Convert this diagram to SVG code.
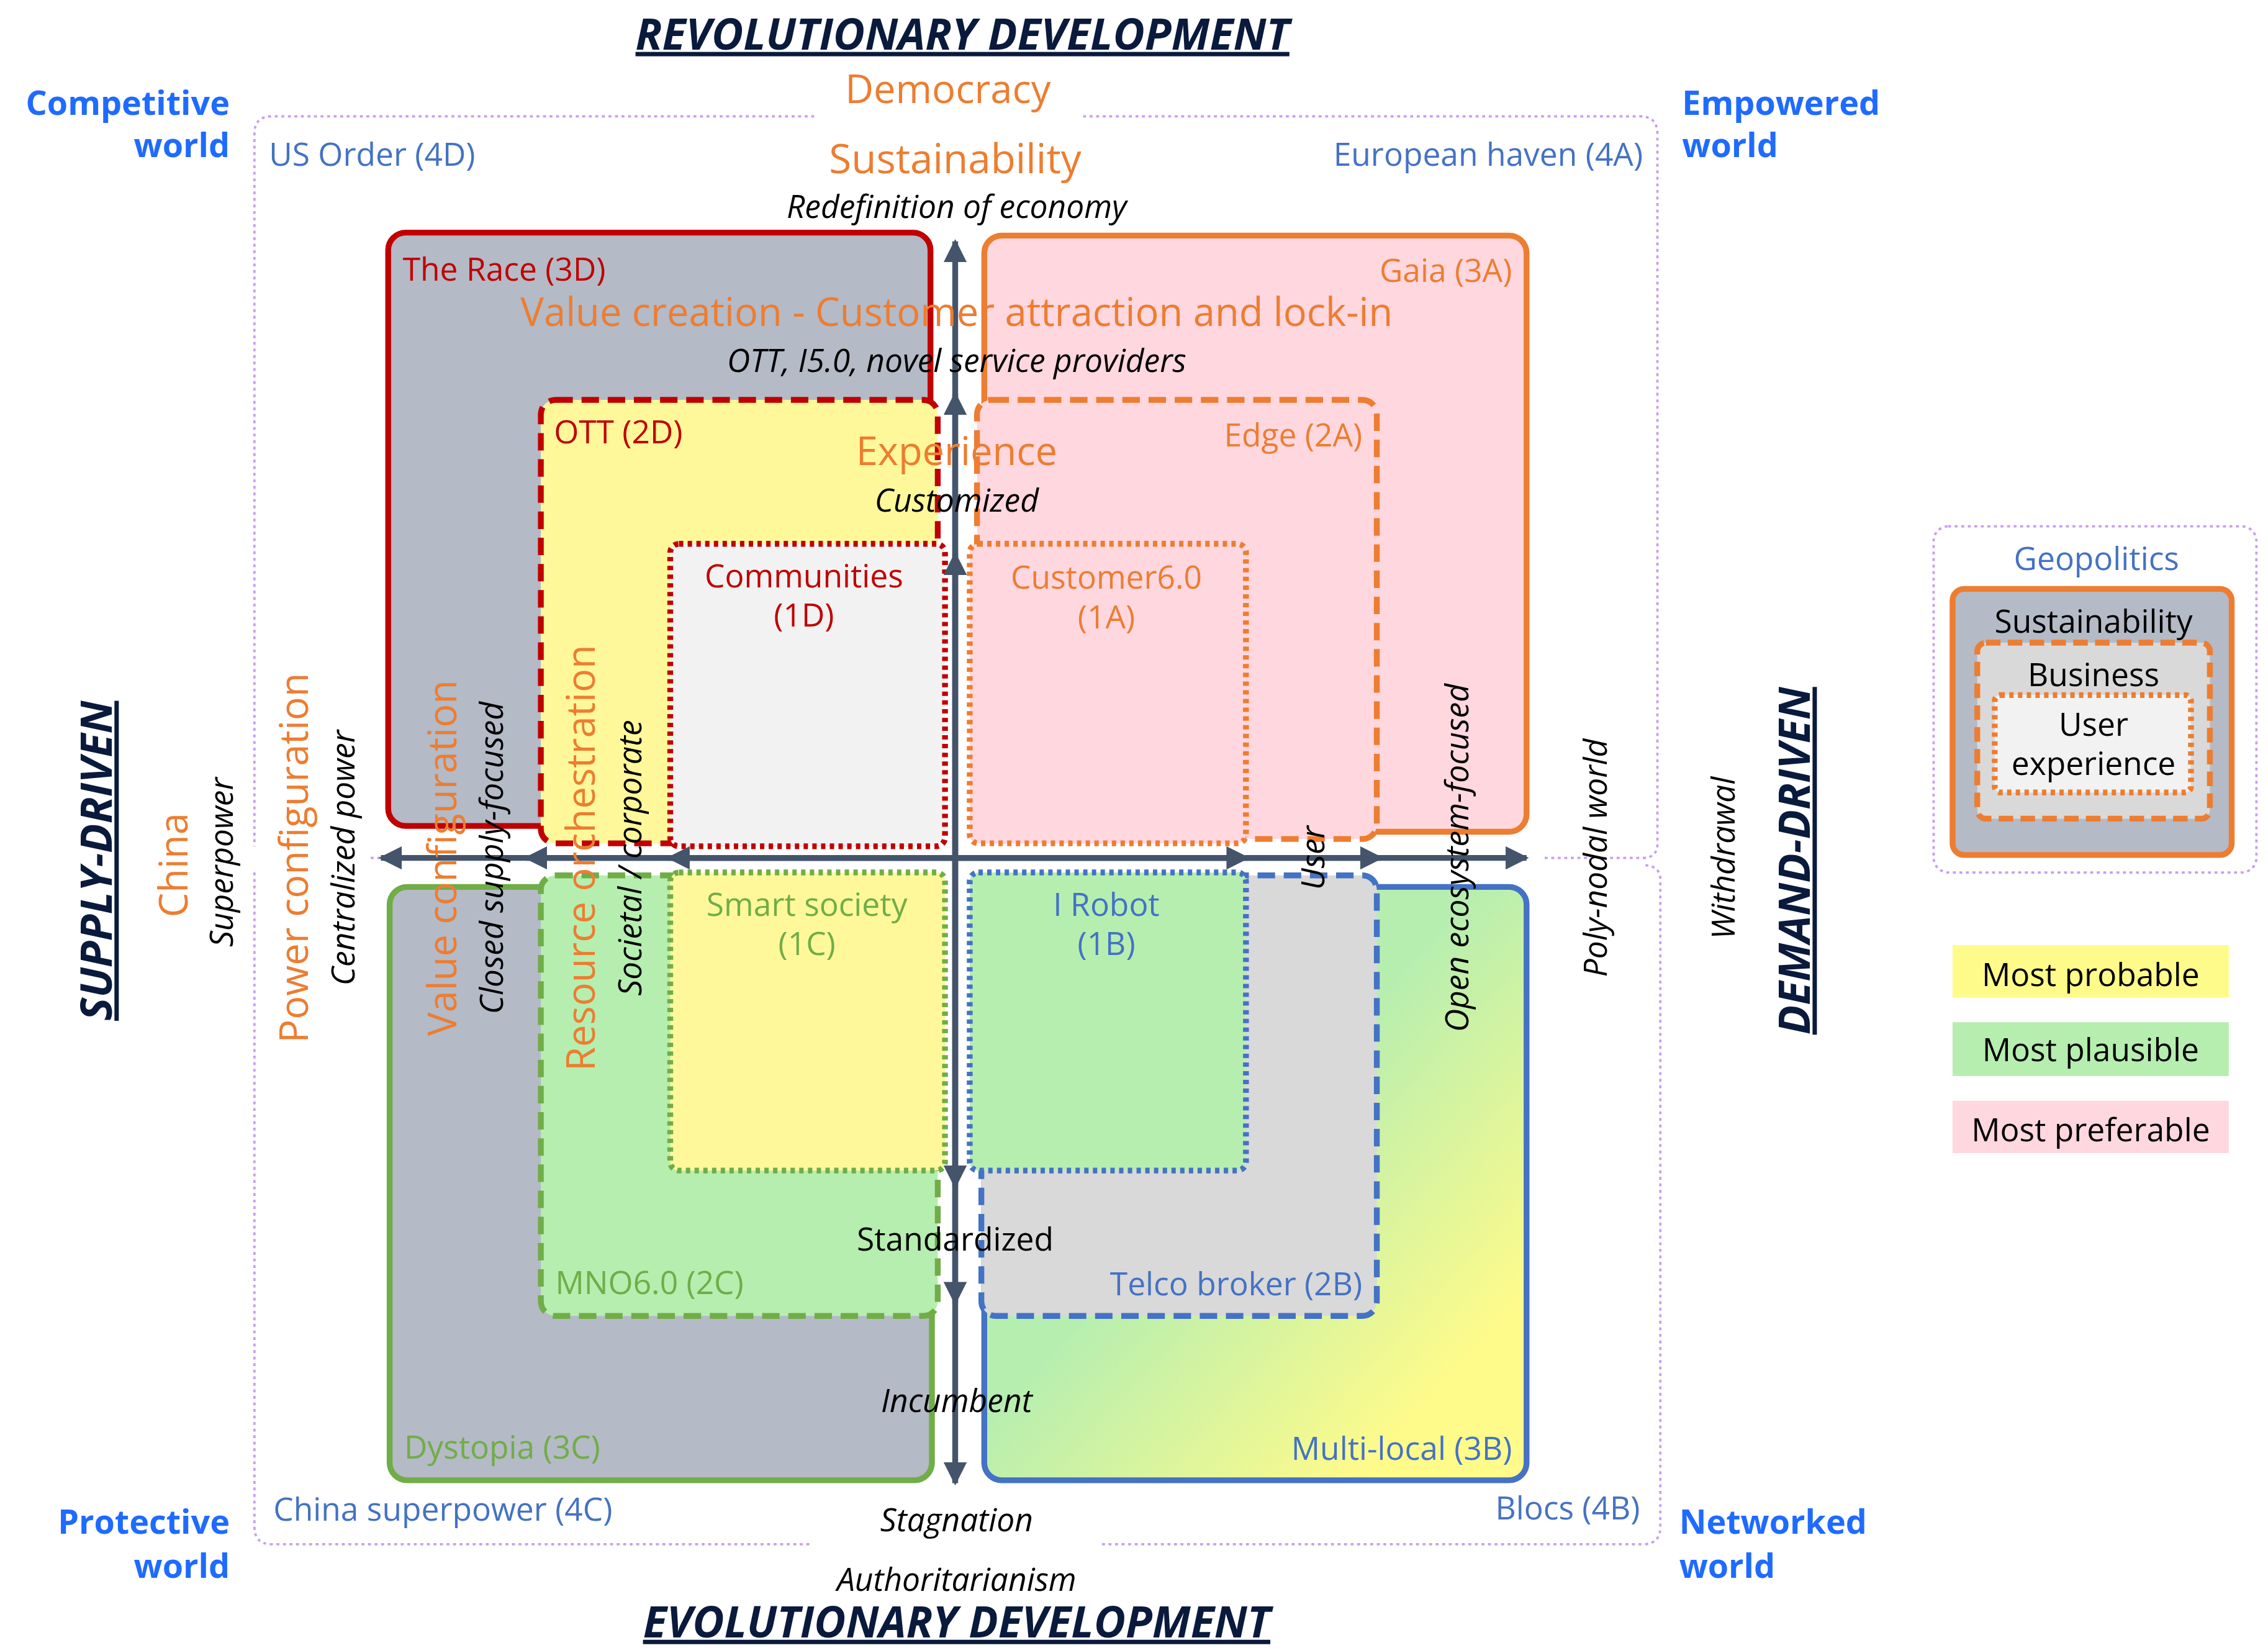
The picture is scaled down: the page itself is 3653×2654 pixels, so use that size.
<svg xmlns="http://www.w3.org/2000/svg" width="3653" height="2654" viewBox="0 0 3653 2654">
<defs>
<style>
text{font-family:"Open Sans","Noto Sans","DejaVu Sans",sans-serif;font-size:22px}
.c{text-anchor:middle}
.e{text-anchor:end}
.it{font-style:italic;fill:#000}
.or{fill:#ed7d31}
.bl{fill:#4472c4}
.rd{fill:#c00000}
.gr{fill:#70ad47}
.wb{fill:#1f6bff;font-weight:bold;font-size:23px}
.ttl{font-weight:bold;font-style:italic;font-size:30px;fill:#0a1a3c;text-decoration:underline;text-anchor:middle}
.pu{fill:none;stroke:#c89cf6;stroke-width:1.6;stroke-dasharray:2 2.5}
.ax{stroke:#44546a;stroke-width:4;fill:none}
</style>
<marker id="ah" viewBox="0 0 10 10" refX="9" refY="5" markerWidth="4" markerHeight="4" orient="auto" markerUnits="strokeWidth"><path d="M0,0 L10,5 L0,10 z" fill="#44546a"/></marker>
<linearGradient id="g3b" x1="0" y1="0" x2="1" y2="1"><stop offset="0.45" stop-color="#b6eeb0"/><stop offset="0.85" stop-color="#fffb8a"/></linearGradient>
</defs>
<rect width="3653" height="2654" fill="#fff"/>
<g transform="scale(2.3417)">
<g id="frame">
<path class="pu" d="M560,80 H187 Q175,80 175,92 V582"/>
<path class="pu" d="M745,80 H1128 Q1140,80 1140,92 V580 Q1140,590 1130,590 H1060"/>
<path class="pu" d="M175,600 V1050 Q175,1062 187,1062 H558"/>
<path class="pu" d="M758,1062 H1130 Q1142,1062 1142,1050 V605 Q1142,595 1130,595"/>
<path class="pu" d="M255,590 H268"/>
</g>
<g id="n3D"><rect x="267" y="160" width="373" height="408" rx="12" fill="#b4bac6" stroke="#c00000" stroke-width="4"/><text x="277" y="193" class="rd">The Race (3D)</text></g>
<g id="n3A"><rect x="677" y="162" width="373" height="410" rx="12" fill="#ffd7df" stroke="#ed7d31" stroke-width="4"/><text x="1040" y="194" class="or e">Gaia (3A)</text></g>
<g id="n3C"><rect x="268" y="610" width="373" height="408" rx="12" fill="#b4bac6" stroke="#70ad47" stroke-width="4"/><text x="278" y="1003" class="gr">Dystopia (3C)</text></g>
<g id="n3B"><rect x="677" y="610" width="373" height="408" rx="12" fill="url(#g3b)" stroke="#4472c4" stroke-width="4"/><text x="1040" y="1004" class="bl e">Multi-local (3B)</text></g>
<g id="n2D"><rect x="372" y="275" width="273" height="305" rx="10" fill="#fff89a" stroke="#c00000" stroke-width="4" stroke-dasharray="12 6"/><text x="381" y="305" class="rd">OTT (2D)</text></g>
<g id="n2A"><rect x="672" y="275" width="275" height="302" rx="10" fill="#ffd7df" stroke="#ed7d31" stroke-width="4" stroke-dasharray="12 6"/><text x="937" y="307" class="or e">Edge (2A)</text></g>
<g id="n2C"><rect x="372" y="602" width="273" height="303" rx="10" fill="#b6eeb0" stroke="#70ad47" stroke-width="4" stroke-dasharray="12 6"/><text x="382" y="890" class="gr">MNO6.0 (2C)</text></g>
<g id="n2B"><rect x="675" y="602" width="272" height="303" rx="10" fill="#d9d9d9" stroke="#4472c4" stroke-width="4" stroke-dasharray="12 6"/><text x="937" y="891" class="bl e">Telco broker (2B)</text></g>
<g id="n1D"><rect x="461" y="374" width="189" height="208" rx="6" fill="#f2f2f2" stroke="#c00000" stroke-width="4" stroke-dasharray="3 3"/><text x="553" y="404" class="rd c">Communities</text><text x="553" y="431" class="rd c">(1D)</text></g>
<g id="n1A"><rect x="667" y="374" width="190" height="206" rx="6" fill="#ffd7df" stroke="#ed7d31" stroke-width="4" stroke-dasharray="3 3"/><text x="761" y="405" class="or c">Customer6.0</text><text x="761" y="432" class="or c">(1A)</text></g>
<g id="n1C"><rect x="461" y="600" width="189" height="205" rx="6" fill="#fff89a" stroke="#70ad47" stroke-width="4" stroke-dasharray="3 3"/><text x="555" y="630" class="gr c">Smart society</text><text x="555" y="657" class="gr c">(1C)</text></g>
<g id="n1B"><rect x="667" y="600" width="190" height="205" rx="6" fill="#b6eeb0" stroke="#4472c4" stroke-width="4" stroke-dasharray="3 3"/><text x="761" y="630" class="bl c">I Robot</text><text x="761" y="657" class="bl c">(1B)</text></g>
<g id="axes">
<line class="ax" x1="657" y1="590" x2="657" y2="166" marker-end="url(#ah)"/>
<line class="ax" x1="657" y1="590" x2="657" y2="271" marker-end="url(#ah)"/>
<line class="ax" x1="657" y1="590" x2="657" y2="381" marker-end="url(#ah)"/>
<line class="ax" x1="657" y1="590" x2="657" y2="1020" marker-end="url(#ah)"/>
<line class="ax" x1="657" y1="590" x2="657" y2="896" marker-end="url(#ah)"/>
<line class="ax" x1="657" y1="590" x2="657" y2="816" marker-end="url(#ah)"/>
<line class="ax" x1="657" y1="590" x2="262" y2="590" marker-end="url(#ah)"/>
<line class="ax" x1="657" y1="590" x2="362" y2="590" marker-end="url(#ah)"/>
<line class="ax" x1="657" y1="590" x2="460" y2="590" marker-end="url(#ah)"/>
<line class="ax" x1="657" y1="590" x2="1050" y2="590" marker-end="url(#ah)"/>
<line class="ax" x1="657" y1="590" x2="950" y2="590" marker-end="url(#ah)"/>
<line class="ax" x1="657" y1="590" x2="858" y2="590" marker-end="url(#ah)"/>
</g>
<g id="labels">
<text x="662" y="34" class="ttl">REVOLUTIONARY DEVELOPMENT</text>
<text x="658" y="1126" class="ttl">EVOLUTIONARY DEVELOPMENT</text>
<text x="158" y="79" class="wb e">Competitive</text><text x="158" y="108" class="wb e">world</text>
<text x="1157" y="79" class="wb">Empowered</text><text x="1157" y="108" class="wb">world</text>
<text x="158" y="1055" class="wb e">Protective</text><text x="158" y="1085" class="wb e">world</text>
<text x="1155" y="1055" class="wb">Networked</text><text x="1155" y="1085" class="wb">world</text>
<text x="652" y="71" class="or c" style="font-size:27px">Democracy</text>
<text x="185" y="114" class="bl">US Order (4D)</text>
<text x="1130" y="114" class="bl e">European haven (4A)</text>
<text x="188" y="1046" class="bl">China superpower (4C)</text>
<text x="1128" y="1045" class="bl e">Blocs (4B)</text>
<text x="657" y="119" class="or c" style="font-size:28px">Sustainability</text>
<text x="658" y="150" class="it c">Redefinition of economy</text>
<text x="658" y="224" class="or c" style="font-size:27px">Value creation - Customer attraction and lock-in</text>
<text x="658" y="256" class="it c">OTT, I5.0, novel service providers</text>
<text x="658" y="320" class="or c" style="font-size:27px">Experience</text>
<text x="658" y="352" class="it c">Customized</text>
<text x="657" y="860" class="c" style="fill:#000">Standardized</text>
<text x="658" y="971" class="it c">Incumbent</text>
<text x="658" y="1053" class="it c">Stagnation</text>
<text x="658" y="1094" class="it c">Authoritarianism</text>
<text transform="translate(77,592) rotate(-90)" class="ttl">SUPPLY-DRIVEN</text>
<text transform="translate(1245,592) rotate(-90)" class="ttl">DEMAND-DRIVEN</text>
<text transform="translate(129,595) rotate(-90)" class="or c" style="font-size:27px">China</text>
<text transform="translate(160,593) rotate(-90)" class="it c">Superpower</text>
<text transform="translate(212,590) rotate(-90)" class="or c" style="font-size:27px">Power configuration</text>
<text transform="translate(244,590) rotate(-90)" class="it c">Centralized power</text>
<text transform="translate(314,590) rotate(-90)" class="or c" style="font-size:27px">Value configuration</text>
<text transform="translate(346,590) rotate(-90)" class="it c">Closed supply-focused</text>
<text transform="translate(409,590) rotate(-90)" class="or c" style="font-size:27px">Resource orchestration</text>
<text transform="translate(441,590) rotate(-90)" class="it c">Societal / corporate</text>
<text transform="translate(911,590) rotate(-90)" class="it c">User</text>
<text transform="translate(1010,590) rotate(-90)" class="it c">Open ecosystem-focused</text>
<text transform="translate(1105,590) rotate(-90)" class="it c">Poly-nodal world</text>
<text transform="translate(1193,590) rotate(-90)" class="it c">Withdrawal</text>
</g>
<g id="legend">
<rect x="1330" y="362" width="222" height="238" rx="10" class="pu"/>
<text x="1442" y="392" class="bl c">Geopolitics</text>
<rect x="1343" y="405" width="192" height="183" rx="8" fill="#b4bac6" stroke="#ed7d31" stroke-width="4"/>
<text x="1440" y="435" class="c" style="fill:#000">Sustainability</text>
<rect x="1360" y="442" width="160" height="121" rx="6" fill="#d9d9d9" stroke="#ed7d31" stroke-width="4" stroke-dasharray="10 5"/>
<text x="1440" y="472" class="c" style="fill:#000">Business</text>
<rect x="1372" y="478" width="135" height="67" rx="4" fill="#f2f2f2" stroke="#ed7d31" stroke-width="4" stroke-dasharray="3 3"/>
<text x="1440" y="506" class="c" style="fill:#000">User</text>
<text x="1440" y="533" class="c" style="fill:#000">experience</text>
<rect x="1343" y="650" width="190" height="36" fill="#fffb8a"/><text x="1438" y="678" class="c" style="fill:#000">Most probable</text>
<rect x="1343" y="703" width="190" height="37" fill="#b6eeb0"/><text x="1438" y="730" class="c" style="fill:#000">Most plausible</text>
<rect x="1343" y="757" width="190" height="36" fill="#ffd7df"/><text x="1438" y="785" class="c" style="fill:#000">Most preferable</text>
</g>
</g>
</svg>
